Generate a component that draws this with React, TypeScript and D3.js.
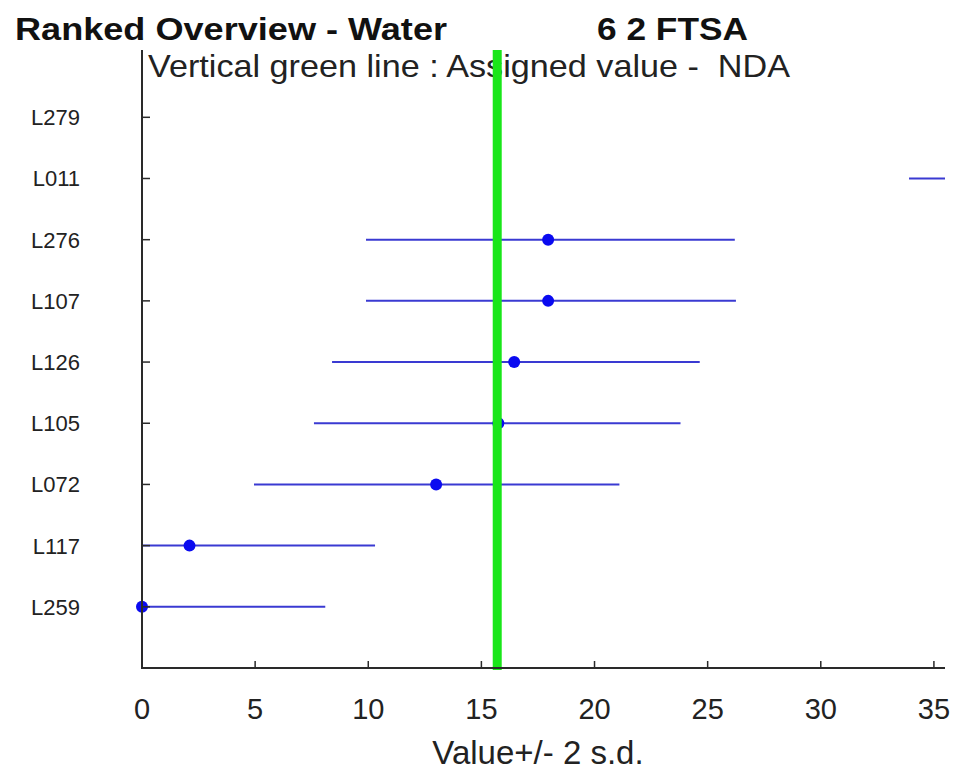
import React from "react";
import * as d3 from "d3";

const labs = ["L279", "L011", "L276", "L107", "L126", "L105", "L072", "L117", "L259"];
const values: (number | null)[] = [null, 42.0, 17.95, 17.95, 16.45, 15.75, 13.0, 2.1, 0.0];
const lower: (number | null)[] = [null, 33.9, 9.9, 9.9, 8.4, 7.6, 4.95, -6.0, -8.1];
const upper: (number | null)[] = [null, 50.1, 26.2, 26.25, 24.65, 23.8, 21.1, 10.3, 8.1];
const xTicks = [0, 5, 10, 15, 20, 25, 30, 35];
const assigned = 15.7;

const W = 954;
const H = 773;
const FONT = "'Liberation Sans', Arial, sans-serif";

export default function App() {
  const x = d3.scaleLinear().domain([0, 35.49]).range([142, 945]);
  const y = d3.scaleLinear().domain([0, 10.1]).range([668, 50]);
  const [xmin, xmax] = x.domain();
  const n = labs.length;
  const yOf = (i: number) => y(n - i);
  const blueLine = "#3a3ad2";
  const dotCol = "#0a0af0";
  const axisCol = "#2a2a2a";

  return (
    <svg
      width={W}
      height={H}
      style={{ position: "absolute", left: 0, top: 0, background: "#fff" }}
      fontFamily={FONT}
    >
      <rect x={0} y={0} width={W} height={H} fill="#fff" />
      {/* titles */}
      <text x={15} y={40} fontSize={32} fontWeight="bold" fill="#111" textLength={432} lengthAdjust="spacingAndGlyphs">
        Ranked Overview - Water
      </text>
      <text x={597} y={40} fontSize={32} fontWeight="bold" fill="#111" textLength={151} lengthAdjust="spacingAndGlyphs">
        6 2 FTSA
      </text>
      <text x={148} y={77} fontSize={32} fill="#222" textLength={642} lengthAdjust="spacingAndGlyphs" xmlSpace="preserve" style={{ whiteSpace: "pre" }}>
        {"Vertical green line : Assigned value -  NDA"}
      </text>

      {/* error bars */}
      {labs.map((l, i) => {
        const lo = lower[i];
        const hi = upper[i];
        if (lo === null || hi === null) return null;
        const a = Math.max(xmin, lo);
        const b = Math.min(xmax, hi);
        if (b <= a) return null;
        return (
          <line key={"e" + l} x1={x(a)} x2={x(b)} y1={yOf(i)} y2={yOf(i)} stroke={blueLine} strokeWidth={2} />
        );
      })}
      {labs.map((l, i) => {
        const v = values[i];
        if (v === null || v < xmin - 0.3 || v > xmax) return null;
        return <circle key={"d" + l} cx={x(v)} cy={yOf(i)} r={6} fill={dotCol} />;
      })}

      {/* assigned value line */}
      <line x1={x(assigned)} x2={x(assigned)} y1={50} y2={670} stroke="#19e619" strokeWidth={9} />

      {/* y axis */}
      <line x1={x(0)} x2={x(0)} y1={50} y2={668} stroke={axisCol} strokeWidth={2} />
      {labs.map((l, i) => (
        <g key={"yt" + l}>
          <line x1={x(0)} x2={x(0) + 8} y1={yOf(i)} y2={yOf(i)} stroke={axisCol} strokeWidth={1.5} />
          <text x={80} y={yOf(i)} dy="0.36em" textAnchor="end" fontSize={22} fill="#222">
            {l}
          </text>
        </g>
      ))}

      {/* x axis */}
      <line x1={x(0) - 1} x2={945} y1={668} y2={668} stroke={axisCol} strokeWidth={2} />
      {xTicks.map((t) => (
        <g key={"xt" + t}>
          <line x1={x(t)} x2={x(t)} y1={668} y2={661} stroke={axisCol} strokeWidth={1.5} />
          <text x={x(t)} y={719} textAnchor="middle" fontSize={29} fill="#222">
            {t}
          </text>
        </g>
      ))}
      <text x={538} y={764} textAnchor="middle" fontSize={33} fill="#222">
        Value+/- 2 s.d.
      </text>
    </svg>
  );
}
